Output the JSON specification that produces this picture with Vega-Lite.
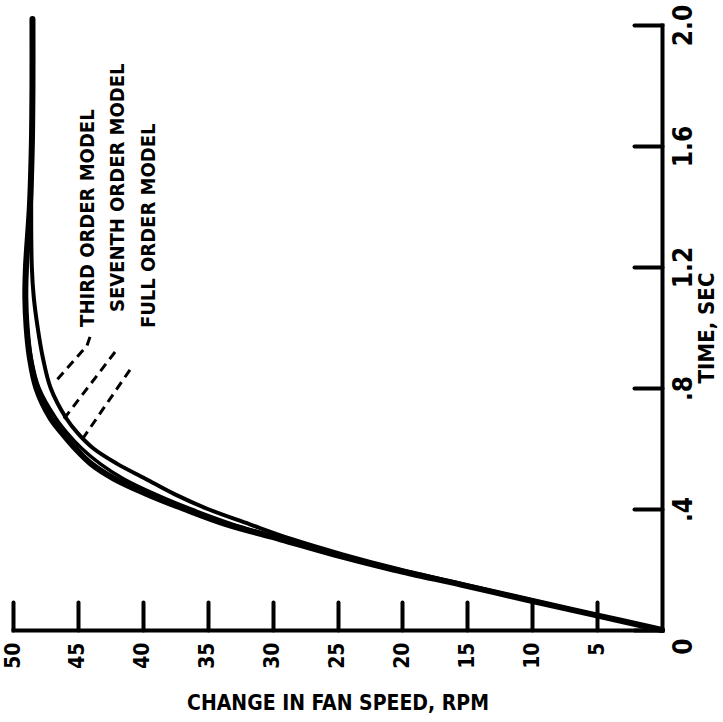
{
  "$schema": "https://vega.github.io/schema/vega-lite/v6.json",
  "width": 649,
  "height": 605,
  "autosize": {"type": "none"},
  "padding": {"left": 13, "top": 25, "right": 61, "bottom": 92},
  "background": "white",
  "config": {"view": {"stroke": null}, "font": "DejaVu Sans Condensed, sans-serif"},
  "data": {"values": [
    {"kind": "curve", "series": "FULL", "t": 0, "rpm": 0},
    {"kind": "curve", "series": "FULL", "t": 0.05, "rpm": 5.2},
    {"kind": "curve", "series": "FULL", "t": 0.10, "rpm": 10.4},
    {"kind": "curve", "series": "FULL", "t": 0.15, "rpm": 15.5},
    {"kind": "curve", "series": "FULL", "t": 0.20, "rpm": 20.7},
    {"kind": "curve", "series": "FULL", "t": 0.25, "rpm": 25.3},
    {"kind": "curve", "series": "FULL", "t": 0.30, "rpm": 29.4},
    {"kind": "curve", "series": "FULL", "t": 0.35, "rpm": 33.6},
    {"kind": "curve", "series": "FULL", "t": 0.40, "rpm": 36.8},
    {"kind": "curve", "series": "FULL", "t": 0.45, "rpm": 39.7},
    {"kind": "curve", "series": "FULL", "t": 0.50, "rpm": 42.2},
    {"kind": "curve", "series": "FULL", "t": 0.55, "rpm": 44.0},
    {"kind": "curve", "series": "FULL", "t": 0.60, "rpm": 45.2},
    {"kind": "curve", "series": "FULL", "t": 0.65, "rpm": 46.2},
    {"kind": "curve", "series": "FULL", "t": 0.70, "rpm": 47.1},
    {"kind": "curve", "series": "FULL", "t": 0.80, "rpm": 48.2},
    {"kind": "curve", "series": "FULL", "t": 0.90, "rpm": 48.7},
    {"kind": "curve", "series": "FULL", "t": 1.00, "rpm": 48.95},
    {"kind": "curve", "series": "FULL", "t": 1.10, "rpm": 49.05},
    {"kind": "curve", "series": "FULL", "t": 1.20, "rpm": 49.0},
    {"kind": "curve", "series": "FULL", "t": 1.40, "rpm": 48.7},
    {"kind": "curve", "series": "FULL", "t": 1.60, "rpm": 48.55},
    {"kind": "curve", "series": "FULL", "t": 1.80, "rpm": 48.5},
    {"kind": "curve", "series": "FULL", "t": 2.02, "rpm": 48.5},
    {"kind": "curve", "series": "SEVENTH", "t": 0, "rpm": 0},
    {"kind": "curve", "series": "SEVENTH", "t": 0.05, "rpm": 5.2},
    {"kind": "curve", "series": "SEVENTH", "t": 0.10, "rpm": 10.3},
    {"kind": "curve", "series": "SEVENTH", "t": 0.15, "rpm": 15.4},
    {"kind": "curve", "series": "SEVENTH", "t": 0.20, "rpm": 20.5},
    {"kind": "curve", "series": "SEVENTH", "t": 0.25, "rpm": 25.0},
    {"kind": "curve", "series": "SEVENTH", "t": 0.30, "rpm": 29.1},
    {"kind": "curve", "series": "SEVENTH", "t": 0.35, "rpm": 33.1},
    {"kind": "curve", "series": "SEVENTH", "t": 0.40, "rpm": 36.3},
    {"kind": "curve", "series": "SEVENTH", "t": 0.45, "rpm": 39.1},
    {"kind": "curve", "series": "SEVENTH", "t": 0.50, "rpm": 41.5},
    {"kind": "curve", "series": "SEVENTH", "t": 0.55, "rpm": 43.3},
    {"kind": "curve", "series": "SEVENTH", "t": 0.60, "rpm": 44.7},
    {"kind": "curve", "series": "SEVENTH", "t": 0.65, "rpm": 45.8},
    {"kind": "curve", "series": "SEVENTH", "t": 0.70, "rpm": 46.7},
    {"kind": "curve", "series": "SEVENTH", "t": 0.80, "rpm": 48.0},
    {"kind": "curve", "series": "SEVENTH", "t": 0.90, "rpm": 48.6},
    {"kind": "curve", "series": "SEVENTH", "t": 1.00, "rpm": 48.9},
    {"kind": "curve", "series": "SEVENTH", "t": 1.10, "rpm": 49.0},
    {"kind": "curve", "series": "SEVENTH", "t": 1.20, "rpm": 48.95},
    {"kind": "curve", "series": "SEVENTH", "t": 1.40, "rpm": 48.7},
    {"kind": "curve", "series": "SEVENTH", "t": 1.60, "rpm": 48.55},
    {"kind": "curve", "series": "SEVENTH", "t": 1.80, "rpm": 48.5},
    {"kind": "curve", "series": "SEVENTH", "t": 2.02, "rpm": 48.5},
    {"kind": "curve", "series": "THIRD", "t": 0, "rpm": 0},
    {"kind": "curve", "series": "THIRD", "t": 0.05, "rpm": 5.1},
    {"kind": "curve", "series": "THIRD", "t": 0.10, "rpm": 10.2},
    {"kind": "curve", "series": "THIRD", "t": 0.15, "rpm": 15.2},
    {"kind": "curve", "series": "THIRD", "t": 0.20, "rpm": 20.2},
    {"kind": "curve", "series": "THIRD", "t": 0.25, "rpm": 24.6},
    {"kind": "curve", "series": "THIRD", "t": 0.30, "rpm": 28.5},
    {"kind": "curve", "series": "THIRD", "t": 0.35, "rpm": 31.8},
    {"kind": "curve", "series": "THIRD", "t": 0.40, "rpm": 35.0},
    {"kind": "curve", "series": "THIRD", "t": 0.45, "rpm": 37.6},
    {"kind": "curve", "series": "THIRD", "t": 0.50, "rpm": 39.8},
    {"kind": "curve", "series": "THIRD", "t": 0.55, "rpm": 42.0},
    {"kind": "curve", "series": "THIRD", "t": 0.60, "rpm": 43.8},
    {"kind": "curve", "series": "THIRD", "t": 0.65, "rpm": 45.0},
    {"kind": "curve", "series": "THIRD", "t": 0.70, "rpm": 45.9},
    {"kind": "curve", "series": "THIRD", "t": 0.80, "rpm": 47.1},
    {"kind": "curve", "series": "THIRD", "t": 0.90, "rpm": 47.7},
    {"kind": "curve", "series": "THIRD", "t": 1.00, "rpm": 48.1},
    {"kind": "curve", "series": "THIRD", "t": 1.10, "rpm": 48.4},
    {"kind": "curve", "series": "THIRD", "t": 1.20, "rpm": 48.55},
    {"kind": "curve", "series": "THIRD", "t": 1.40, "rpm": 48.6},
    {"kind": "curve", "series": "THIRD", "t": 1.60, "rpm": 48.55},
    {"kind": "curve", "series": "THIRD", "t": 1.80, "rpm": 48.5},
    {"kind": "curve", "series": "THIRD", "t": 2.02, "rpm": 48.5},
    {"kind": "leader", "series": "THIRD", "t": 0.969, "rpm": 44.07},
    {"kind": "leader", "series": "THIRD", "t": 0.94, "rpm": 44.3},
    {"kind": "leader", "series": "THIRD", "t": 0.82, "rpm": 46.76},
    {"kind": "leader", "series": "SEVENTH", "t": 0.919, "rpm": 42.14},
    {"kind": "leader", "series": "SEVENTH", "t": 0.694, "rpm": 46.15},
    {"kind": "leader", "series": "FULL", "t": 0.86, "rpm": 40.99},
    {"kind": "leader", "series": "FULL", "t": 0.605, "rpm": 45.07},
    {"kind": "label", "series": "THIRD", "t": 1.002, "rpm": 44.2, "text": "THIRD ORDER MODEL"},
    {"kind": "label", "series": "SEVENTH", "t": 1.051, "rpm": 41.9, "text": "SEVENTH ORDER MODEL"},
    {"kind": "label", "series": "FULL", "t": 0.998, "rpm": 39.5, "text": "FULL ORDER MODEL"}
  ]},
  "encoding": {
    "x": {
      "field": "rpm", "type": "quantitative",
      "scale": {"domain": [0, 50], "reverse": true, "nice": false, "zero": false},
      "axis": {
        "orient": "bottom", "values": [5, 10, 15, 20, 25, 30, 35, 40, 45, 50],
        "title": "CHANGE IN FAN SPEED, RPM", "grid": false,
        "domainWidth": 4, "domainColor": "black", "domainCap": "square",
        "tickSize": -28, "tickWidth": 4, "tickColor": "black", "tickCap": "round",
        "labelAngle": 270, "labelAlign": "right", "labelBaseline": "middle",
        "labelPadding": 40, "labelFontSize": 21, "labelFontWeight": "bold", "labelColor": "black",
        "labelOverlap": false, "labelFlush": false,
        "titleFontSize": 21, "titleFontWeight": "bold", "titleColor": "black", "titlePadding": 24
      }
    },
    "y": {
      "field": "t", "type": "quantitative",
      "scale": {"domain": [0, 2], "nice": false, "zero": false},
      "axis": {
        "orient": "right", "values": [0, 0.4, 0.8, 1.2, 1.6, 2.0],
        "labelExpr": "datum.value == 0 ? '0' : (datum.value < 1 ? replace(format(datum.value, '.1f'), '0.', '.') : format(datum.value, '.1f'))",
        "title": "TIME, SEC", "grid": false,
        "domainWidth": 4, "domainColor": "black", "domainCap": "square",
        "tickSize": -28, "tickWidth": 4, "tickColor": "black", "tickCap": "round",
        "labelAngle": 270, "labelAlign": "center", "labelBaseline": "top",
        "labelOffset": {"condition": {"test": "datum.value === 0", "value": 16}, "value": 0},
        "labelPadding": 36, "labelFontSize": 26, "labelFontWeight": "bold", "labelColor": "black",
        "labelOverlap": false, "labelFlush": false,
        "titleAngle": 270, "titleFontSize": 22, "titleFontWeight": "bold", "titleColor": "black", "titlePadding": 22
      }
    }
  },
  "layer": [
    {
      "transform": [{"filter": "datum.kind === 'curve' && datum.series === 'FULL'"}],
      "mark": {"type": "line", "color": "black", "strokeWidth": 6, "interpolate": "catmull-rom", "strokeCap": "round"},
      "encoding": {"order": {"field": "t", "type": "quantitative"}}
    },
    {
      "transform": [{"filter": "datum.kind === 'curve' && datum.series === 'SEVENTH'"}],
      "mark": {"type": "line", "color": "black", "strokeWidth": 3.5, "interpolate": "catmull-rom", "strokeCap": "round"},
      "encoding": {"order": {"field": "t", "type": "quantitative"}}
    },
    {
      "transform": [{"filter": "datum.kind === 'curve' && datum.series === 'THIRD'"}],
      "mark": {"type": "line", "color": "black", "strokeWidth": 4, "interpolate": "catmull-rom", "strokeCap": "round"},
      "encoding": {"order": {"field": "t", "type": "quantitative"}}
    },
    {
      "transform": [{"filter": "datum.kind === 'leader'"}],
      "mark": {"type": "line", "color": "black", "strokeWidth": 3, "strokeDash": [9, 6]},
      "encoding": {"detail": {"field": "series"}, "order": {"field": "t", "type": "quantitative", "sort": "descending"}}
    },
    {
      "transform": [{"filter": "datum.kind === 'label'"}],
      "mark": {"type": "text", "angle": 270, "align": "left", "baseline": "middle", "fontSize": 20, "fontWeight": "bold", "color": "black"},
      "encoding": {"text": {"field": "text"}}
    }
  ]
}
